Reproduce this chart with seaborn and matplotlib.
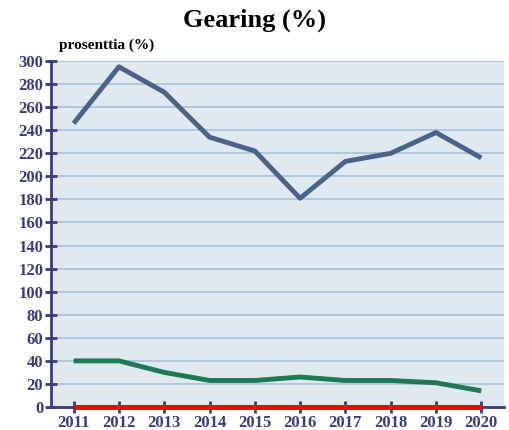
import pandas as pd
import matplotlib
matplotlib.use("Agg")
import matplotlib.pyplot as plt
from matplotlib.ticker import MultipleLocator
import seaborn as sns

years = [2011, 2012, 2013, 2014, 2015, 2016, 2017, 2018, 2019, 2020]
gearing_a = [246, 295, 273, 234, 222, 181, 213, 220, 238, 216]
gearing_b = [40, 40, 30, 23, 23, 26, 23, 23, 21, 14]
gearing_c = [0, 0, 0, 0, 0, 0, 0, 0, 0, 0]
series_names = ["A", "B", "C"]
series_colors = ["#4b6288", "#1e7a52", "#ff0000"]

df = pd.DataFrame({
    "year": years * 3,
    "value": gearing_a + gearing_b + gearing_c,
    "series": [n for n in series_names for _ in years],
})

sns.set_theme(style="white")
plt.rcParams["font.family"] = ["Liberation Serif", "DejaVu Serif"]
navy = "#3b3b80"

fig = plt.figure(figsize=(5.09, 4.30), dpi=100)
ax = fig.add_axes([0.1002, 0.0535, 0.8898, 0.8045])
ax.set_facecolor("#e0e8f0")

sns.lineplot(data=df, x="year", y="value", hue="series", palette=series_colors,
             linewidth=3.5, legend=False, ax=ax, zorder=3)
for ln in ax.lines:
    ln.set_solid_capstyle("butt")
# red line sits on top of the axis
ax.lines[2].set_linewidth(3.6)
ax.lines[2].set_clip_on(False)
ax.lines[2].set_zorder(5)

ax.set_xlim(2010.5, 2020.5)
ax.set_ylim(0, 300)
ax.set_xticks(years)
ax.yaxis.set_major_locator(MultipleLocator(20))
ax.yaxis.set_minor_locator(MultipleLocator(10))
ax.grid(axis="y", which="major", color="#a6c2d6", linewidth=1.2, zorder=1)
ax.set_axisbelow(True)

for s in ["top", "right"]:
    ax.spines[s].set_visible(False)
for s in ["left", "bottom"]:
    ax.spines[s].set_color(navy)
    ax.spines[s].set_linewidth(2)

ax.tick_params(axis="both", which="major", direction="inout", length=9, width=2,
               color=navy, labelcolor=navy, labelsize=12, pad=1)
ax.tick_params(axis="y", which="minor", direction="inout", length=7, width=2, color=navy)
ax.tick_params(axis="y", which="major", left=True)
ax.tick_params(axis="x", which="major", bottom=True)
for lab in ax.get_xticklabels() + ax.get_yticklabels():
    lab.set_fontweight("bold")

ax.set_xlabel("")
ax.set_ylabel("")
fig.text(0.5, 0.953, "Gearing (%)", ha="center", va="center", fontsize=19,
         fontweight="bold", color="black")
fig.text(0.116, 0.895, "prosenttia (%)", ha="left", va="center", fontsize=11,
         fontweight="bold", color="black")

fig.savefig("out.png", dpi=100)
